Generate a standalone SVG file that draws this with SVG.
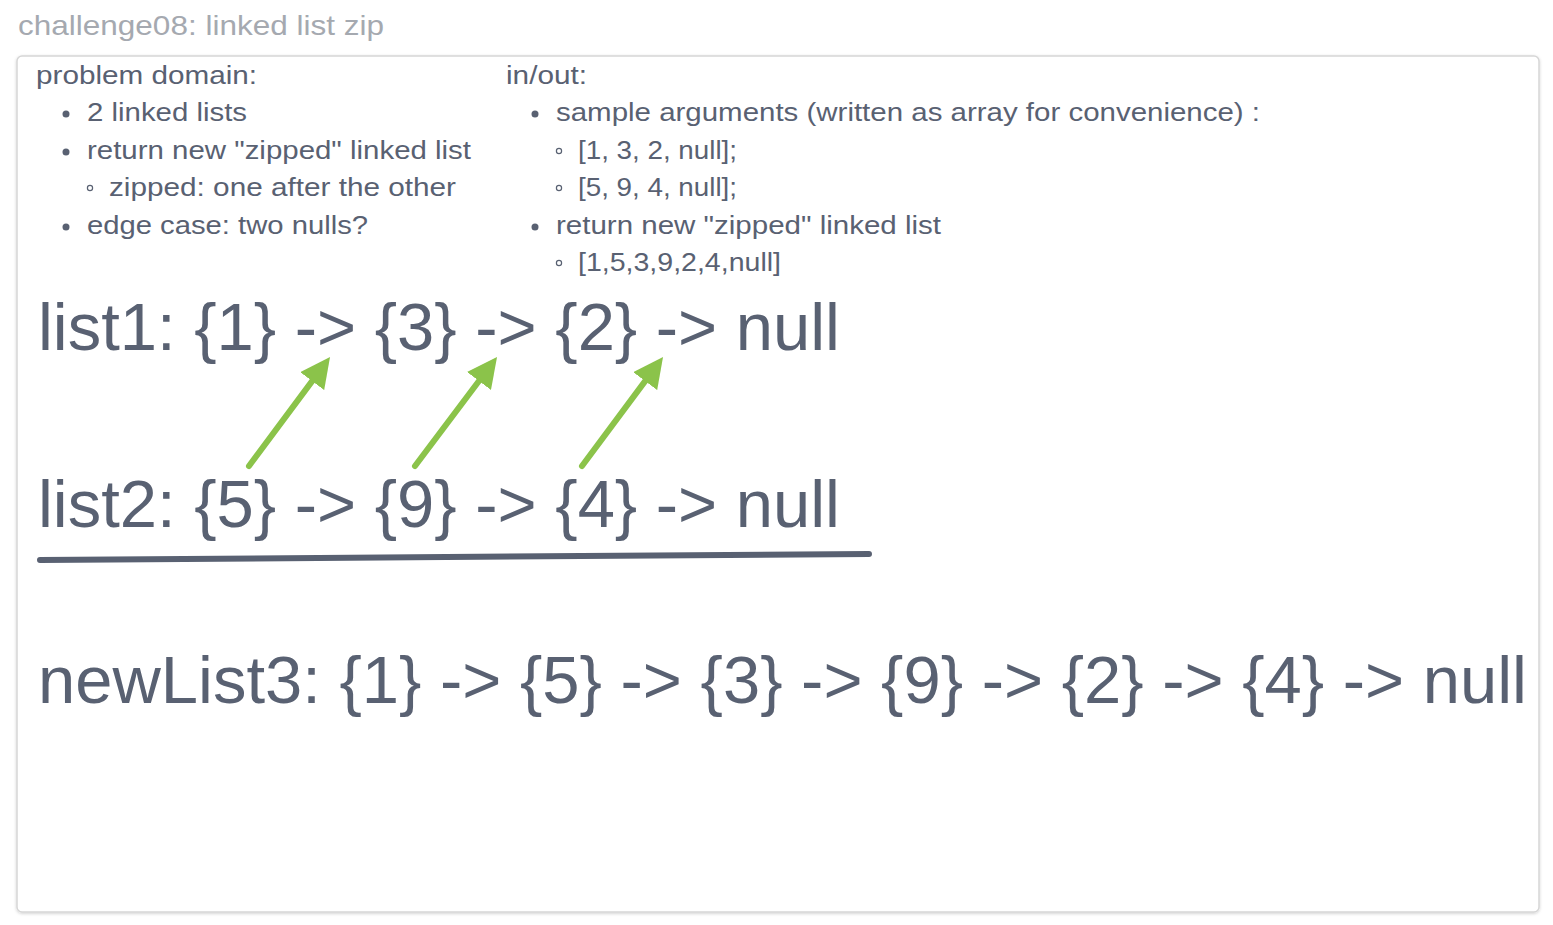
<svg xmlns="http://www.w3.org/2000/svg" width="1553" height="925" viewBox="0 0 1553 925">
<style>
.t{font-family:"Liberation Sans",Arial,sans-serif;fill:#596172}
.b{font-size:26px}
.big{font-size:67px}
.title{font-family:"Liberation Sans",Arial,sans-serif;font-size:28px;fill:#a5a9b0}
.arr{stroke:#8bc34a;stroke-width:6;stroke-linecap:round;fill:none}
</style>
<defs>
<filter id="sh" x="-5%" y="-5%" width="110%" height="110%">
<feDropShadow dx="0" dy="1" stdDeviation="1.5" flood-color="#000" flood-opacity="0.18"/>
</filter>
<marker id="ah" viewBox="0 0 10 10" refX="3" refY="5" markerWidth="5" markerHeight="5" orient="auto">
<path d="M0,0 L10,5 L0,10 z" fill="#8bc34a"/>
</marker>
</defs>
<rect width="1553" height="925" fill="#ffffff"/>
<g id="title">
<text class="title" x="18" y="35" textLength="366" lengthAdjust="spacingAndGlyphs">challenge08: linked list zip</text>
</g>
<g id="frame">
<rect x="17" y="56" width="1522" height="856" rx="5" fill="#ffffff" stroke="#d6d6d6" stroke-width="1.5" filter="url(#sh)"/>
</g>
<g id="problem-domain">
<text class="t b" x="36" y="84" textLength="221" lengthAdjust="spacingAndGlyphs">problem domain:</text>
<circle cx="66" cy="114" r="3.5" fill="#596172"/>
<text class="t b" x="87" y="121" textLength="160" lengthAdjust="spacingAndGlyphs">2 linked lists</text>
<circle cx="66" cy="152" r="3.5" fill="#596172"/>
<text class="t b" x="87" y="159" textLength="384" lengthAdjust="spacingAndGlyphs">return new "zipped" linked list</text>
<circle cx="90" cy="188" r="2.6" fill="none" stroke="#596172" stroke-width="1.2"/>
<text class="t b" x="109" y="196" textLength="347" lengthAdjust="spacingAndGlyphs">zipped: one after the other</text>
<circle cx="66" cy="227" r="3.5" fill="#596172"/>
<text class="t b" x="87" y="234" textLength="281" lengthAdjust="spacingAndGlyphs">edge case: two nulls?</text>
</g>
<g id="in-out">
<text class="t b" x="506" y="84" textLength="81" lengthAdjust="spacingAndGlyphs">in/out:</text>
<circle cx="535" cy="114" r="3.5" fill="#596172"/>
<text class="t b" x="556" y="121" textLength="704" lengthAdjust="spacingAndGlyphs">sample arguments (written as array for convenience) :</text>
<circle cx="559" cy="151" r="2.6" fill="none" stroke="#596172" stroke-width="1.2"/>
<text class="t b" x="578" y="159" textLength="159" lengthAdjust="spacingAndGlyphs">[1, 3, 2, null];</text>
<circle cx="559" cy="188" r="2.6" fill="none" stroke="#596172" stroke-width="1.2"/>
<text class="t b" x="578" y="196" textLength="159" lengthAdjust="spacingAndGlyphs">[5, 9, 4, null];</text>
<circle cx="535" cy="227" r="3.5" fill="#596172"/>
<text class="t b" x="556" y="234" textLength="385" lengthAdjust="spacingAndGlyphs">return new "zipped" linked list</text>
<circle cx="559" cy="263" r="2.6" fill="none" stroke="#596172" stroke-width="1.2"/>
<text class="t b" x="578" y="271" textLength="203" lengthAdjust="spacingAndGlyphs">[1,5,3,9,2,4,null]</text>
</g>
<g id="list1">
<text class="t big" x="38" y="350" textLength="802" lengthAdjust="spacingAndGlyphs">list1: {1} -&gt; {3} -&gt; {2} -&gt; null</text>
</g>
<g id="list2">
<text class="t big" x="38" y="527" textLength="802" lengthAdjust="spacingAndGlyphs">list2: {5} -&gt; {9} -&gt; {4} -&gt; null</text>
</g>
<g id="divider">
<path d="M40,560 L869,554" stroke="#596172" stroke-width="6" stroke-linecap="round" fill="none"/>
</g>
<g id="newList3">
<text class="t big" x="38" y="703" textLength="1489" lengthAdjust="spacingAndGlyphs">newList3: {1} -&gt; {5} -&gt; {3} -&gt; {9} -&gt; {2} -&gt; {4} -&gt; null</text>
</g>
<g id="connectors">
<line class="arr" x1="249" y1="466" x2="317.5" y2="373.9" marker-end="url(#ah)"/>
<line class="arr" x1="415" y1="466" x2="484.4" y2="373.8" marker-end="url(#ah)"/>
<line class="arr" x1="582" y1="466" x2="650.5" y2="373.9" marker-end="url(#ah)"/>
</g>
</svg>
